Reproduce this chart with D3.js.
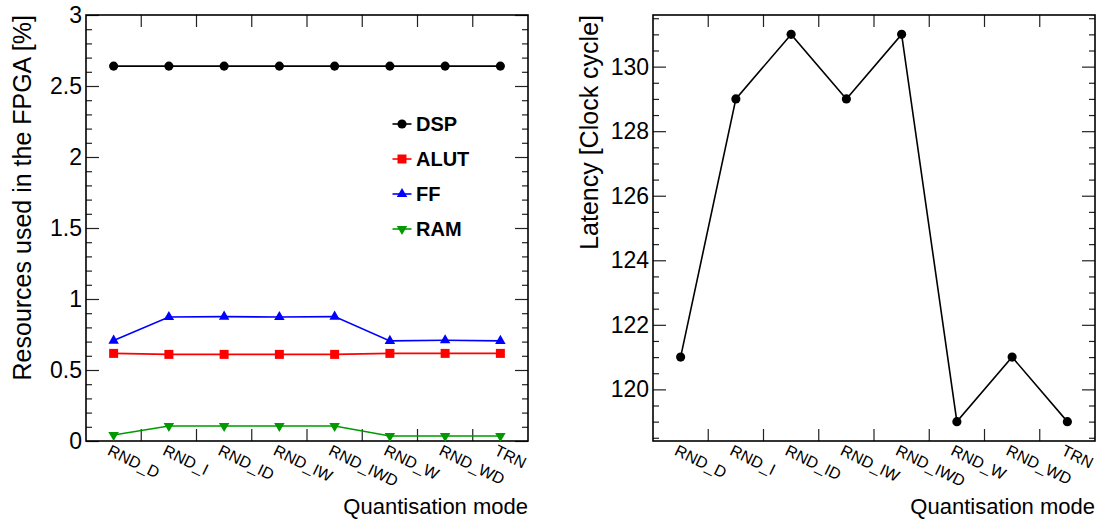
<!DOCTYPE html>
<html><head><meta charset="utf-8">
<script src="https://cdn.jsdelivr.net/npm/d3@7"></script>
<style>
body{margin:0;background:#fff;}
svg{display:block;font-family:"Liberation Sans",Arial,Helvetica,sans-serif;}
</style></head><body>
<svg id="chart" width="1100" height="523"></svg>
<script>
// ---- data ----
const categories = ["RND_D","RND_I","RND_ID","RND_IW","RND_IWD","RND_W","RND_WD","TRN"];
const dspValues  = [2.64,2.64,2.64,2.64,2.64,2.64,2.64,2.64];
const alutValues = [0.617,0.610,0.610,0.610,0.610,0.617,0.617,0.617];
const ffValues   = [0.707,0.873,0.876,0.873,0.876,0.705,0.709,0.705];
const ramValues  = [0.042,0.106,0.106,0.106,0.106,0.035,0.035,0.035];
const latencyValues = [121,129,131,129,131,119,121,119];
const resourceTicks = [0,0.5,1,1.5,2,2.5,3];
const latencyTicks = [120,122,124,126,128,130];
const seriesNames = ["DSP","ALUT","FF","RAM"];
const seriesColors = ["#000000","#ff0000","#0000ff","#009a00"];
const seriesSymbols = ["circle","square","triangle","triangleDown"];

const svg = d3.select("#chart");
const FONT = '"Liberation Sans",Arial,Helvetica,sans-serif';

function symbolPath(kind){
  if(kind==="circle") return d3.symbol(d3.symbolCircle, 66)();
  if(kind==="square") return d3.symbol(d3.symbolSquare, 81)();
  return d3.symbol(d3.symbolTriangle, 48)();
}
function drawMarker(g, kind, x, y, color){
  g.append("path").attr("d", symbolPath(kind))
    .attr("transform", `translate(${x},${y})` + (kind==="triangleDown" ? " rotate(180)" : ""))
    .attr("fill", color);
}

function makePanel(opts){
  const {x0,x1,y0,y1,domain,ticks,minorStep,tickFmt,ytitle,ytitleX} = opts;
  const g = svg.append("g");
  const x = d3.scaleBand().domain(categories).range([x0,x1]).paddingInner(0).paddingOuter(0);
  const y = d3.scaleLinear().domain(domain).range([y1,y0]);
  const minors = d3.range(Math.ceil(domain[0]/minorStep)*minorStep, domain[1]+1e-9, minorStep)
      .map(v=>+v.toFixed(4)).filter(v=>!ticks.some(t=>Math.abs(t-v)<1e-6));
  const axL = d3.axisLeft(y).tickValues(ticks).tickSize(-13).tickPadding(4).tickFormat(tickFmt);
  const gl = g.append("g").attr("transform",`translate(${x0},0)`).call(axL);
  gl.select(".domain").remove();
  gl.selectAll("line").attr("stroke","#222").attr("stroke-width",1.2);
  gl.selectAll("text").attr("font-size",23).attr("font-family",FONT).attr("fill","#000");
  const glm = g.append("g").attr("transform",`translate(${x0},0)`)
      .call(d3.axisLeft(y).tickValues(minors).tickSize(-6).tickFormat(""));
  glm.select(".domain").remove();
  glm.selectAll("line").attr("stroke","#222").attr("stroke-width",1.2);
  const gr = g.append("g").attr("transform",`translate(${x1},0)`)
      .call(d3.axisRight(y).tickValues(ticks).tickSize(-13).tickFormat(""));
  gr.select(".domain").remove();
  gr.selectAll("line").attr("stroke","#222").attr("stroke-width",1.2);
  const grm = g.append("g").attr("transform",`translate(${x1},0)`)
      .call(d3.axisRight(y).tickValues(minors).tickSize(-6).tickFormat(""));
  grm.select(".domain").remove();
  grm.selectAll("line").attr("stroke","#222").attr("stroke-width",1.2);
  const edges = categories.slice(1).map(c=>x(c));
  g.selectAll(null).data(edges).enter().append("line")
    .attr("x1",d=>d).attr("x2",d=>d).attr("y1",y1).attr("y2",y1-12)
    .attr("stroke","#222").attr("stroke-width",1.2);
  g.selectAll(null).data(edges).enter().append("line")
    .attr("x1",d=>d).attr("x2",d=>d).attr("y1",y0).attr("y2",y0+12)
    .attr("stroke","#222").attr("stroke-width",1.2);
  g.selectAll(null).data(categories).enter().append("text")
    .attr("transform",d=>`translate(${x(d)+x.bandwidth()/2-2},${y1+3}) rotate(26)`)
    .attr("dy","0.72em").attr("font-size",16).attr("font-family",FONT)
    .text(d=>d);
  g.append("rect").attr("x",x0).attr("y",y0).attr("width",x1-x0).attr("height",y1-y0)
    .attr("fill","none").attr("stroke","#000").attr("stroke-width",1.6);
  g.append("text").attr("x",x1).attr("y",514).attr("text-anchor","end")
    .attr("font-size",22).attr("font-family",FONT).text("Quantisation mode");
  g.append("text").attr("transform",`translate(${ytitleX},${y0}) rotate(-90)`)
    .attr("text-anchor","end").attr("font-size",25).attr("font-family",FONT).text(ytitle);
  return {g,x,y};
}

// ---- left panel ----
const L = makePanel({x0:86,x1:528,y0:15,y1:441,domain:[0,3],ticks:resourceTicks,minorStep:0.1,
  tickFmt:d=>String(d),ytitle:"Resources used in the FPGA [%]",ytitleX:31});
const cx = c => L.x(c)+L.x.bandwidth()/2;
const allSeries = [dspValues, alutValues, ffValues, ramValues];
allSeries.forEach((vals,si)=>{
  const line = d3.line().x((d,i)=>cx(categories[i])).y(d=>L.y(d));
  L.g.append("path").datum(vals).attr("d",line).attr("fill","none")
    .attr("stroke",seriesColors[si]).attr("stroke-width",1.6);
  vals.forEach((v,i)=>drawMarker(L.g, seriesSymbols[si], cx(categories[i]), L.y(v), seriesColors[si]));
});
seriesNames.forEach((name,si)=>{
  const yy = 124 + si*35;
  L.g.append("line").attr("x1",392.5).attr("x2",411.5).attr("y1",yy).attr("y2",yy)
    .attr("stroke",seriesColors[si]).attr("stroke-width",1.6);
  drawMarker(L.g, seriesSymbols[si], 402, yy, seriesColors[si]);
  L.g.append("text").attr("x",416).attr("y",yy).attr("dy","0.36em")
    .attr("font-size",20).attr("font-weight","bold").attr("font-family",FONT).text(name);
});

// ---- right panel ----
const R = makePanel({x0:653,x1:1095,y0:15,y1:441,domain:[118.4,131.6],ticks:latencyTicks,minorStep:0.5,
  tickFmt:d=>String(d),ytitle:"Latency [Clock cycle]",ytitleX:598});
const rx = c => R.x(c)+R.x.bandwidth()/2;
R.g.append("path").datum(latencyValues)
  .attr("d", d3.line().x((d,i)=>rx(categories[i])).y(d=>R.y(d)))
  .attr("fill","none").attr("stroke","#000").attr("stroke-width",1.6);
latencyValues.forEach((v,i)=>drawMarker(R.g,"circle",rx(categories[i]),R.y(v),"#000"));
</script>
</body></html>
